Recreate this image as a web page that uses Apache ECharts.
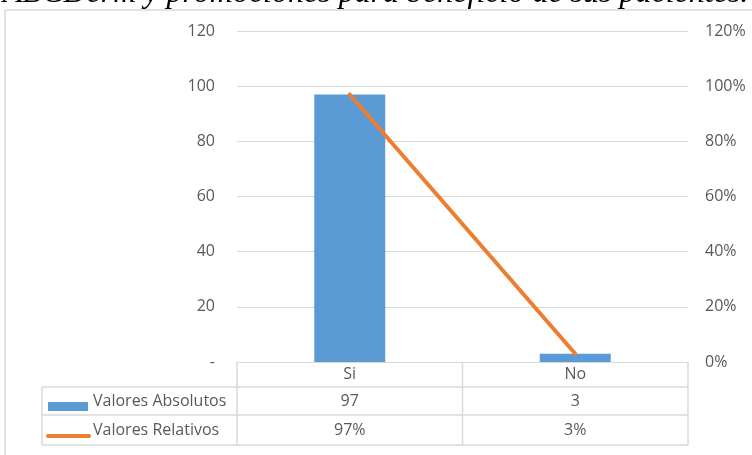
<!DOCTYPE html>
<html>
<head>
<meta charset="utf-8">
<script src="https://cdn.jsdelivr.net/npm/echarts@6/dist/echarts.min.js"></script>
<style>
html, body { margin: 0; padding: 0; background: #fff; }
#main { width: 752px; height: 455px; }
</style>
</head>
<body>
<div id="main"></div>
<script>
// datos del grafico
var titulo = 'ABCDerm y promociones para beneficio de sus pacientes.';
var categorias = ['Si', 'No'];
var absolutos = [97, 3];
var relativos = [0.97, 0.03];
var nombres = ['Valores Absolutos', 'Valores Relativos'];
var etiquetasAbs = ['97', '3'];
var etiquetasRel = ['97%', '3%'];

var gris = '#595959';
var linea = '#D9D9D9';
var azul = '#5B9BD5';
var naranja = '#ED7D31';
var fuente = '"Open Sans", sans-serif';

var chart = echarts.init(document.getElementById('main'));

chart.setOption({
  animation: false,
  grid: { left: 237, right: 64, top: 31, bottom: 93 },
  xAxis: {
    type: 'category',
    data: categorias,
    axisLine: { lineStyle: { color: linea } },
    axisTick: { show: false },
    axisLabel: { show: false }
  },
  yAxis: [
    {
      type: 'value', min: 0, max: 120, interval: 20,
      axisLine: { show: false }, axisTick: { show: false },
      splitLine: { lineStyle: { color: linea, width: 1 } },
      axisLabel: {
        color: gris, fontSize: 16, fontFamily: fuente, margin: 22,
        formatter: function (v) { return v === 0 ? '-' : v; }
      }
    },
    {
      type: 'value', min: 0, max: 1.2, interval: 0.2,
      axisLine: { show: false }, axisTick: { show: false },
      splitLine: { show: false },
      axisLabel: {
        color: gris, fontSize: 16, fontFamily: fuente, margin: 17,
        formatter: function (v) { return Math.round(v * 100) + '%'; }
      }
    }
  ],
  series: [
    {
      name: nombres[0], type: 'bar', data: absolutos,
      barWidth: 71, itemStyle: { color: azul }
    },
    {
      name: nombres[1], type: 'line', yAxisIndex: 1, data: relativos,
      symbol: 'none',
      lineStyle: { color: naranja, width: 4, cap: 'round' }
    }
  ]
});

// tabla de datos debajo del grafico
var izq = 237, der = 752 - 64, medio = (izq + der) / 2;
var y0 = 362, y1 = 387, y2 = 415, y3 = 445, xLeyenda = 42;
var g = [];

function raya(xa, ya, xb, yb) {
  g.push({ type: 'line', shape: { x1: xa, y1: ya, x2: xb, y2: yb },
    style: { stroke: linea, lineWidth: 1.5 } });
}
function texto(t, x, y, align) {
  g.push({ type: 'text', x: x, y: y,
    style: { text: t, fill: gris, font: '16px ' + fuente, align: align || 'center', verticalAlign: 'middle' } });
}

// titulo cortado arriba
g.push({ type: 'text', x: 3, y: 10,
  style: { text: titulo, fill: '#000', font: 'italic 32px "Liberation Serif", serif', align: 'left', verticalAlign: 'bottom' } });

// marco del grafico
raya(5, 10, 752, 10);
raya(5, 10, 5, 455);

raya(izq, y0, izq, y3);
raya(medio, y0, medio, y3);
raya(der, y0, der, y3);
raya(xLeyenda, y1, der, y1);
raya(xLeyenda, y2, der, y2);
raya(xLeyenda, y3, der, y3);
raya(xLeyenda, y1, xLeyenda, y3);

for (var i = 0; i < categorias.length; i++) {
  var cx = chart.convertToPixel({ xAxisIndex: 0 }, categorias[i]);
  texto(categorias[i], cx, (y0 + y1) / 2);
  texto(etiquetasAbs[i], cx, (y1 + y2) / 2);
  texto(etiquetasRel[i], cx, (y2 + y3) / 2);
}

// claves de la leyenda
g.push({ type: 'rect', shape: { x: 48, y: 402, width: 40, height: 9 }, style: { fill: azul } });
g.push({ type: 'line', shape: { x1: 48, y1: 436, x2: 89, y2: 436 },
  style: { stroke: naranja, lineWidth: 4, lineCap: 'round' } });
texto(nombres[0], 93, (y1 + y2) / 2, 'left');
texto(nombres[1], 93, (y2 + y3) / 2, 'left');

chart.setOption({ graphic: g });
</script>
</body>
</html>
